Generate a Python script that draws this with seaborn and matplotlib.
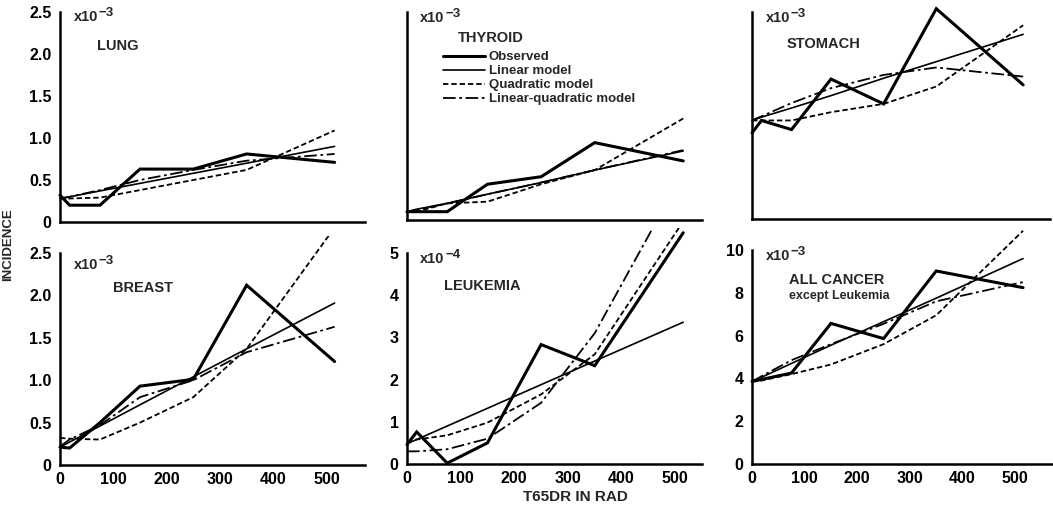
import matplotlib
matplotlib.use("Agg")
import matplotlib.pyplot as plt
import matplotlib.transforms as mtransforms
import seaborn as sns
import pandas as pd
from matplotlib.patches import Rectangle
from matplotlib.lines import Line2D

# ---------------- data (values x 10^-3, leukemia x 10^-4) ----------------
dose = [0, 18, 75, 150, 250, 350, 515]

lung_obs = [0.32, 0.20, 0.20, 0.63, 0.63, 0.81, 0.71]
lung_lin = [0.28, 0.30, 0.37, 0.46, 0.58, 0.70, 0.90]
lung_quad = [0.28, 0.28, 0.29, 0.38, 0.50, 0.62, 1.09]
lung_lq = [0.28, 0.30, 0.38, 0.50, 0.62, 0.73, 0.81]

thyroid_obs = [0.10, 0.10, 0.10, 0.43, 0.52, 0.93, 0.71]
thyroid_lin = [0.10, 0.13, 0.20, 0.31, 0.45, 0.60, 0.83]
thyroid_quad = [0.10, 0.10, 0.20, 0.22, 0.43, 0.60, 1.22]
thyroid_lq = [0.10, 0.12, 0.20, 0.31, 0.45, 0.60, 0.84]

stomach_obs = [1.04, 1.19, 1.08, 1.69, 1.39, 2.54, 1.62]
stomach_lin = [1.19, 1.23, 1.34, 1.49, 1.70, 1.90, 2.23]
stomach_quad = [1.19, 1.19, 1.19, 1.29, 1.39, 1.60, 2.34]
stomach_lq = [1.19, 1.24, 1.40, 1.58, 1.74, 1.83, 1.72]

breast_obs = [0.21, 0.20, 0.50, 0.93, 1.01, 2.12, 1.22]
breast_lin = [0.21, 0.27, 0.46, 0.71, 1.04, 1.37, 1.91]
breast_quad = [0.32, 0.31, 0.30, 0.50, 0.80, 1.37, 2.80]
breast_lq = [0.22, 0.30, 0.47, 0.80, 1.00, 1.33, 1.63]

leuk_obs = [0.46, 0.76, 0.02, 0.50, 2.83, 2.33, 5.48]
leuk_lin = [0.48, 0.58, 0.90, 1.32, 1.88, 2.44, 3.36]
leuk_quad = [0.52, 0.58, 0.68, 0.98, 1.65, 2.60, 5.75]
leuk_lq = [0.30, 0.30, 0.35, 0.60, 1.45, 3.10, 6.90]

allc_obs = [3.86, 3.95, 4.25, 6.57, 5.86, 9.02, 8.24]
allc_lin = [3.85, 4.05, 4.70, 5.55, 6.65, 7.75, 9.60]
allc_quad = [3.85, 3.90, 4.20, 4.65, 5.60, 6.95, 10.90]
allc_lq = [3.85, 4.10, 4.85, 5.60, 6.55, 7.60, 8.50]

series_names = ["Observed", "Linear model", "Quadratic model", "Linear-quadratic model"]
xticks = [0, 100, 200, 300, 400, 500]
yt_small = [0, 0.5, 1.0, 1.5, 2.0, 2.5]
yt_small_lab = ["0", "0.5", "1.0", "1.5", "2.0", "2.5"]
yt_leuk = [0, 1, 2, 3, 4, 5]
yt_allc = [0, 2, 4, 6, 8, 10]

# ---------------- style ----------------
sns.set_style("white")
plt.rcParams["font.family"] = ["Liberation Sans", "DejaVu Sans"]

styles = {
    "Observed": dict(lw=2.2, ls="-"),
    "Linear model": dict(lw=1.2, ls="-"),
    "Quadratic model": dict(lw=1.3, ls=(0, (3, 1.6))),
    "Linear-quadratic model": dict(lw=1.3, ls=(0, (7, 2, 1.5, 2))),
}

W, H = 1053, 509
fig = plt.figure(figsize=(W / 100, H / 100), dpi=100)

def ax_at(left, right, top, bottom):
    return fig.add_axes([left / W, 1 - bottom / H, (right - left) / W, (bottom - top) / H])

panels = [
    dict(box=(60, 365, 12, 222), xmax=572, ylim=2.5, yt=yt_small, ytl=yt_small_lab, xl=False,
         data=[lung_obs, lung_lin, lung_quad, lung_lq], title="LUNG", tpos=(0.12, 0.838), exp="\u22123", epos=0.975),
    dict(box=(407, 702, 12, 220), xmax=550, ylim=2.5, yt=yt_small, ytl=None, xl=False,
         data=[thyroid_obs, thyroid_lin, thyroid_quad, thyroid_lq], title="THYROID", tpos=(0.173, 0.876), exp="\u22123", epos=0.97),
    dict(box=(752, 1050, 12, 219), xmax=566, ylim=2.5, yt=yt_small, ytl=None, xl=False,
         data=[stomach_obs, stomach_lin, stomach_quad, stomach_lq], title="STOMACH", tpos=(0.117, 0.843), exp="\u22123", epos=0.97),
    dict(box=(60, 365, 253, 465), xmax=572, ylim=2.5, yt=yt_small, ytl=yt_small_lab, xl=True,
         data=[breast_obs, breast_lin, breast_quad, breast_lq], title="BREAST", tpos=(0.174, 0.835), exp="\u22123", epos=0.945,
         clip=2.7),
    dict(box=(407, 702, 253, 464), xmax=550, ylim=5, yt=yt_leuk, ytl=[str(v) for v in yt_leuk], xl=True,
         data=[leuk_obs, leuk_lin, leuk_quad, leuk_lq], title="LEUKEMIA", tpos=(0.125, 0.844), exp="\u22124", epos=0.97,
         clip=5.6),
    dict(box=(752, 1052, 250, 464), xmax=570, ylim=10, yt=yt_allc, ytl=[str(v) for v in yt_allc], xl=True,
         data=[allc_obs, allc_lin, allc_quad, allc_lq], title="ALL CANCER", tpos=(0.124, 0.858), exp="\u22123", epos=0.97,
         sub="except Leukemia"),
]

axes = []
for p in panels:
    ax = ax_at(*p["box"])
    axes.append(ax)
    for name, vals in zip(series_names, p["data"]):
        df = pd.DataFrame({"dose": dose, "inc": vals})
        st = styles[name]
        sns.lineplot(data=df, x="dose", y="inc", ax=ax, color="black", lw=st["lw"],
                     linestyle=st["ls"], estimator=None, sort=False, clip_on=False)
        line = ax.lines[-1]
        line.set_solid_joinstyle("miter")
        if "clip" in p:
            rect = Rectangle((-20, -1), 700, p["clip"] + 1, transform=ax.transData)
            line.set_clip_on(True)
            line.set_clip_path(rect)
    ax.set_xlim(0, p["xmax"])
    ax.set_ylim(0, p["ylim"])
    ax.set_xlabel("")
    ax.set_ylabel("")
    for s in ["top", "right"]:
        ax.spines[s].set_visible(False)
    for s in ["left", "bottom"]:
        ax.spines[s].set_linewidth(1.8)
        ax.spines[s].set_color("black")
    ax.set_xticks(xticks)
    ax.set_yticks(p["yt"])
    ax.tick_params(direction="in", length=4, width=1, colors="black")
    if p["xl"]:
        ax.set_xticklabels([str(v) for v in xticks], fontsize=11.5, fontweight="bold")
    else:
        ax.set_xticklabels([])
    if p["ytl"] is not None:
        ax.set_yticklabels(p["ytl"], fontsize=11.5, fontweight="bold")
    else:
        ax.set_yticklabels([])
    ax.tick_params(axis="x", pad=5)
    ax.tick_params(axis="y", pad=6)
    ax.text(0.045, p["epos"], "x10", transform=ax.transAxes,
            fontsize=10.5, fontweight="bold", va="center", ha="left")
    exp_tr = mtransforms.offset_copy(ax.transAxes, fig=fig, x=25, y=4, units="dots")
    ax.text(0.045, p["epos"], p["exp"], transform=exp_tr,
            fontsize=9.5, fontweight="bold", va="center", ha="left")
    ax.text(p["tpos"][0], p["tpos"][1], p["title"], transform=ax.transAxes,
            fontsize=10.5, fontweight="bold", va="center", ha="left")
    if "sub" in p:
        ax.text(p["tpos"][0], p["tpos"][1] - 0.075, p["sub"], transform=ax.transAxes,
                fontsize=9, fontweight="bold", va="center", ha="left")

# legend in thyroid panel
handles = [Line2D([0], [0], color="black", lw=styles[n]["lw"], linestyle=styles[n]["ls"]) for n in series_names]
leg = axes[1].legend(handles, series_names, loc="upper left", bbox_to_anchor=(443 / W, 1 - 51 / H),
                     bbox_transform=fig.transFigure, frameon=False, borderpad=0, borderaxespad=0,
                     handlelength=3.2, handletextpad=0.25, labelspacing=0.14,
                     prop=dict(size=9.5, weight="bold"))

fig.text(8 / W, 1 - 245 / H, "INCIDENCE", rotation=90, fontsize=9.5, fontweight="bold", va="center", ha="center")
fig.text(575 / W, 1 - 497 / H, "T65DR IN RAD", fontsize=11, fontweight="bold", va="center", ha="center")

fig.savefig("out.png", dpi=100, facecolor="white")
